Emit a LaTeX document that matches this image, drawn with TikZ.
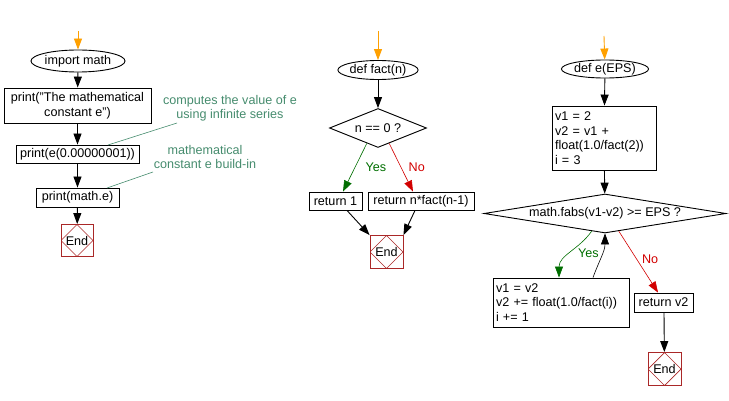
\documentclass[tikz,border=0pt]{standalone}
\usepackage{fontspec}
\setmainfont{Liberation Sans}
\usetikzlibrary{shapes.geometric,arrows.meta}
\definecolor{startorange}{RGB}{255,160,0}
\definecolor{endred}{RGB}{170,40,40}
\definecolor{yesgreen}{RGB}{0,110,0}
\definecolor{nored}{RGB}{210,0,0}
\definecolor{notecol}{RGB}{70,140,110}
\begin{document}
\begin{tikzpicture}[x=1pt,y=-1pt,line width=0.9pt,
    font=\fontsize{12.6}{14.5}\selectfont,
    >={Triangle[length=11pt,width=8pt]},
    proc/.style={draw,rectangle,inner sep=0pt,align=center},
    term/.style={draw,ellipse,inner sep=0pt},
    decision/.style={draw,diamond,inner sep=0pt},
    endbox/.style={draw=endred,rectangle,minimum size=32pt,inner sep=0pt,
        path picture={\draw[endred,line width=0.7pt] (path picture bounding box.north) -- (path picture bounding box.east)
            -- (path picture bounding box.south) -- (path picture bounding box.west) -- cycle;}},
    note/.style={text=notecol,align=center},
    flow/.style={->},
    yes/.style={->,yesgreen,line width=0.6pt},
    no/.style={->,nored,line width=0.6pt}]
    \useasboundingbox (0,0) rectangle (729,401);

    % Main program
    \coordinate (s1) at (78,31);
    \node[term,minimum width=88pt,minimum height=22pt] (imp) at (78,61) {import math};
    \node[proc,minimum width=147pt,minimum height=35pt] (pr1) at (77.5,105.5) {print("The mathematical\\constant e")};
    \node[proc,minimum width=123pt,minimum height=18pt] (pr2) at (77.5,154) {print(e(0.00000001))};
    \node[proc,minimum width=83pt,minimum height=19pt] (pr3) at (77.5,197.5) {print(math.e)};
    \node[endbox] (end1) at (77,240.5) {End};

    \draw[->,startorange] (s1) -- (imp);
    \draw[flow] (imp) -- (pr1);
    \draw[flow] (pr1) -- (pr2);
    \draw[flow] (pr2) -- (pr3);
    \draw[flow] (pr3) -- (end1);

    % Comments
    \node[note] (c1) at (230,108) {computes the value of e\\using infinite series};
    \node[note] (c2) at (205,157) {mathematical\\constant e build-in};
    \coordinate (c1a) at (177,123);
    \coordinate (c2a) at (153,172);
    \draw[notecol,line width=0.6pt] (c1a) -- (108,145);
    \draw[notecol,line width=0.6pt] (c2a) -- (107,188);

    % def fact(n)
    \coordinate (s2) at (378,31);
    \node[term,minimum width=73pt,minimum height=19pt] (fact) at (378,70) {def fact(n)};
    \node[decision,shape aspect=2.5,minimum width=97pt,minimum height=39pt] (dec1) at (378,128) {n == 0 ?};
    \node[proc,minimum width=53pt,minimum height=18pt] (ret1) at (335.5,201) {return 1};
    \node[proc,minimum width=106pt,minimum height=18pt] (retn) at (421,201) {return n*fact(n-1)};
    \node[endbox,minimum size=33pt] (end2) at (386.5,252) {End};

    \draw[->,startorange] (s2) -- (fact);
    \draw[flow] (fact) -- (dec1);
    \draw[yes] (dec1.234) -- (ret1.north -| 343,0) node[pos=0.5,right=7pt] {Yes};
    \draw[no] (dec1.306) -- (retn.north -| 413,0) node[pos=0.5,right=4pt] {No};
    \draw[flow] (ret1.south -| 347,0) -- (end2.north west);
    \draw[flow] (retn.south -| 415,0) -- (end2.north east);

    % def e(EPS)
    \coordinate (s3) at (604,36);
    \node[term,minimum width=80pt,minimum height=18pt] (defe) at (605,69) {def e(EPS)};
    \node[proc,minimum width=104pt,minimum height=64pt,align=left,text width=98pt] (init) at (604,138)
        {v1 = 2\\v2 = v1 +\\float(1.0/fact(2))\\i = 3};
    \node[decision,shape aspect=6,minimum width=242pt,minimum height=39pt] (dec2) at (605,213.5) {math.fabs(v1-v2) >= EPS ?};
    \node[proc,minimum width=136pt,minimum height=49pt,align=left,text width=130pt] (loop) at (561,302.5)
        {v1 = v2\\v2 += float(1.0/fact(i))\\i += 1};
    \node[proc,minimum width=59pt,minimum height=19pt] (retv) at (663.5,302.5) {return v2};
    \node[endbox,minimum size=33pt] (end3) at (664.5,369) {End};

    \draw[->,startorange] (s3) -- (defe);
    \draw[flow] (defe) -- (init);
    \draw[flow] (init) -- (dec2);
    \draw[yes] (dec2.233) to[out=235,in=90] node[pos=0.5,right=4pt] {Yes} (loop.north -| 559,0);
    \draw[flow,line width=0.6pt] (loop.north -| 593,0) to[out=70,in=-90] (dec2.south);
    \draw[no] (dec2.308) -- (retv.north -| 658,0) node[pos=0.45,right=2pt] {No};
    \draw[flow] (retv.south -| 664,0) -- (end3);
\end{tikzpicture}
\end{document}
